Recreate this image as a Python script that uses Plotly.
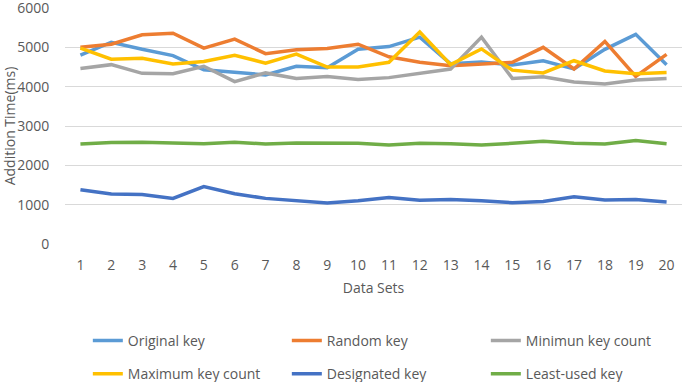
import plotly.graph_objects as go

data_sets = list(range(1, 21))
original_key = [4800, 5130, 4950, 4790, 4430, 4370, 4300, 4520, 4480, 4950,
                5020, 5260, 4580, 4630, 4550, 4660, 4450, 4950, 5330, 4560]
random_key = [5000, 5080, 5320, 5360, 4980, 5210, 4840, 4940, 4970, 5080,
              4760, 4620, 4530, 4580, 4620, 5000, 4450, 5150, 4260, 4820]
minimum_key_count = [4460, 4560, 4340, 4330, 4520, 4130, 4350, 4210, 4260, 4180,
                     4230, 4340, 4450, 5260, 4210, 4250, 4120, 4070, 4170, 4210]
maximum_key_count = [4980, 4700, 4720, 4580, 4640, 4800, 4600, 4830, 4500, 4500,
                     4620, 5390, 4560, 4960, 4420, 4350, 4660, 4400, 4330, 4360]
designated_key = [1380, 1270, 1260, 1160, 1460, 1280, 1160, 1100, 1040, 1100,
                  1180, 1110, 1130, 1100, 1050, 1080, 1200, 1120, 1130, 1070]
least_used_key = [2540, 2580, 2590, 2580, 2550, 2590, 2540, 2570, 2560, 2560,
                  2520, 2560, 2550, 2520, 2560, 2610, 2560, 2540, 2630, 2550]
y_ticks = [0, 1000, 2000, 3000, 4000, 5000, 6000]

series = [
    ("Original key", original_key, "#5B9BD5", "legend"),
    ("Random key", random_key, "#ED7D31", "legend"),
    ("Minimun key count", minimum_key_count, "#A5A5A5", "legend"),
    ("Maximum key count", maximum_key_count, "#FFC000", "legend2"),
    ("Designated key", designated_key, "#4472C4", "legend2"),
    ("Least-used key", least_used_key, "#70AD47", "legend2"),
]

FONT = "Open Sans, Noto Sans, sans-serif"
GREY = "#595959"

fig = go.Figure()
for name, vals, color, lg in series:
    fig.add_trace(go.Scatter(x=data_sets, y=vals, name=name, mode="lines",
                             line=dict(color=color, width=3.5), legend=lg))

legend_common = dict(orientation="h", xanchor="left", yanchor="middle",
                     entrywidth=154, entrywidthmode="pixels",
                     font=dict(family=FONT, size=14, color=GREY),
                     bgcolor="rgba(0,0,0,0)", itemwidth=30)

fig.update_layout(
    width=685, height=382,
    margin=dict(l=65, r=3, t=8, b=138, autoexpand=False),
    paper_bgcolor="white", plot_bgcolor="white",
    font=dict(family=FONT, color=GREY),
    legend=dict(x=0.037, y=-0.411, **legend_common),
    legend2=dict(x=0.037, y=-0.551, **legend_common),
    xaxis=dict(range=[0.5, 20.5], tickmode="array", tickvals=data_sets,
               ticktext=[str(d) for d in data_sets],
               showgrid=False, zeroline=False, showline=False, automargin=False,
               ticks="outside", ticklen=8, tickcolor="rgba(0,0,0,0)",
               ticklabeloverflow="allow",
               tickfont=dict(family=FONT, size=14, color=GREY),
               title=dict(text="Data Sets", font=dict(family=FONT, size=14, color=GREY),
                          standoff=10)),
    yaxis=dict(range=[0, 6000.5], tickmode="array", tickvals=y_ticks,
               showgrid=True, gridcolor="#D9D9D9", gridwidth=1,
               zeroline=False, showline=False, automargin=False,
               ticks="outside", ticklen=12, tickcolor="rgba(0,0,0,0)",
               ticklabeloverflow="allow",
               tickfont=dict(family=FONT, size=14, color=GREY),
               title=dict(text="Addition Time(ms)", font=dict(family=FONT, size=14, color=GREY),
                          standoff=8)),
)

fig.write_html("out.html", config={"displayModeBar": False},
               post_script="document.body.style.margin='0';document.body.style.overflow='hidden';")
